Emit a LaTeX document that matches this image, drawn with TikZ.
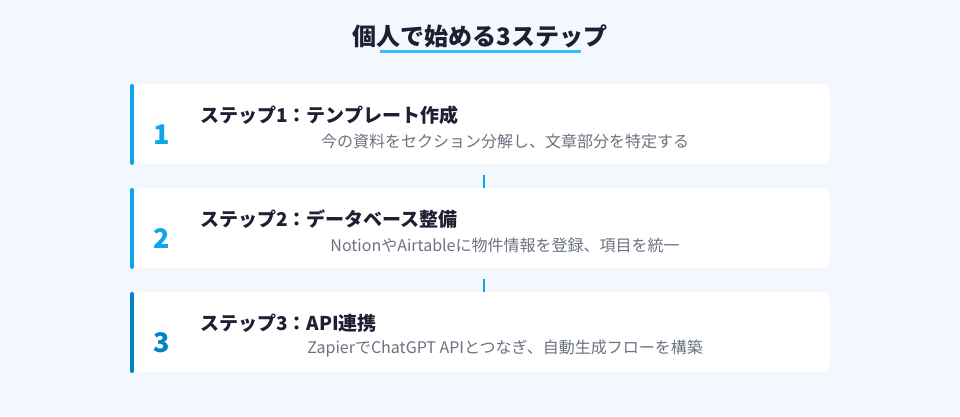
\documentclass[tikz,border=0pt]{standalone}
\usepackage{fontspec}
\setmainfont{Noto Sans CJK JP}
\usetikzlibrary{positioning,arrows.meta}

\definecolor{pagebg}{HTML}{F3F8FE}
\definecolor{inkdark}{HTML}{1E1F33}
\definecolor{inkgray}{HTML}{6B7280}
\definecolor{skyblue}{HTML}{0EA5E9}
\definecolor{deepblue}{HTML}{0284C7}
\definecolor{lineblue}{HTML}{38BDF8}

\tikzset{
  card/.style={fill=white, rounded corners=9pt, minimum width=697pt, minimum height=80pt, inner sep=0pt},
  accent/.style={line width=4pt, line cap=round},
  stepnum/.style={font=\bfseries\fontsize{27}{30}\selectfont, anchor=center},
  stephead/.style={font=\bfseries\fontsize{19}{22}\selectfont, text=inkdark, anchor=west},
  stepsub/.style={font=\fontsize{16}{19}\selectfont, text=inkgray, anchor=center},
  link/.style={line width=2pt, skyblue, -{Latex[length=4pt,width=5pt]}}
}

\begin{document}
\begin{tikzpicture}[x=1pt,y=-1pt,>=latex]

	% Background
	\fill[pagebg] (0,0) rectangle (960,416);
	\useasboundingbox (0,0) rectangle (960,416);

	% Title with underline
	\node[font=\bfseries\fontsize{24}{28}\selectfont, text=inkdark] (title) at (480,36) {個人で始める3ステップ};
	\draw[lineblue, line width=3pt] (380,51) -- (581,51);

	% Cards (placed first so the connectors can use their names)
	\node[card] (card1) at (481.5,124) {};
	\node[card] (card2) at (481.5,228) {};
	\node[card] (card3) at (481.5,332) {};

	% Connectors, tips tucked under the next card
	\draw[link] ([xshift=2.5pt,yshift=-11pt]card1.south) -- ([xshift=2.5pt,yshift=-4pt]card2.north);
	\draw[link] ([xshift=2.5pt,yshift=-11pt]card2.south) -- ([xshift=2.5pt,yshift=-4pt]card3.north);
	\node[card] at (card2) {};
	\node[card] at (card3) {};

	% Step 1
	\draw[accent, skyblue] (132,86) -- (132,163);
	\node[stepnum, text=skyblue] (num1) at (162,135) {1};
	\node[stephead] (head1) at (196.5,115) {ステップ1：テンプレート作成};
	\node[stepsub] (sub1) at (505,141) {今の資料をセクション分解し、文章部分を特定する};

	% Step 2
	\draw[accent, skyblue] (132,190) -- (132,267);
	\node[stepnum, text=skyblue] (num2) at (162,239) {2};
	\node[stephead] (head2) at (196.5,219) {ステップ2：データベース整備};
	\node[stepsub] (sub2) at (505,245) {NotionやAirtableに物件情報を登録、項目を統一};

	% Step 3
	\draw[accent, deepblue] (132,294) -- (132,371);
	\node[stepnum, text=deepblue] (num3) at (162,343) {3};
	\node[stephead] (head3) at (196.5,323) {ステップ3：API連携};
	\node[stepsub] (sub3) at (505,349) {ZapierでChatGPT APIとつなぎ、自動生成フローを構築};

\end{tikzpicture}
\end{document}
